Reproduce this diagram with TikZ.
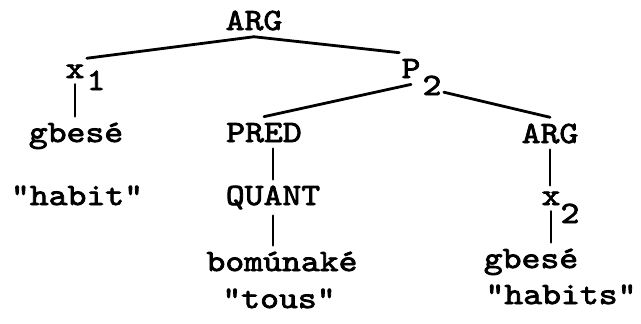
\documentclass[tikz,border=0pt]{standalone}
\usepackage{fontspec}
\newfontfamily\twfont{lmmono10-regular.otf}[FakeStretch=1.16,FakeBold=2.5]

\begin{document}
\begin{tikzpicture}
[x=0.5pt,y=-0.5pt,
  nodedecorate/.style={anchor=base,inner xsep=1pt,inner ysep=3pt,%
    font=\twfont\fontsize{15.5pt}{18pt}\selectfont},%
  linedecorate/.style={-,line width=1.4pt,line cap=round}]
\useasboundingbox (0,0) rectangle (641,323);
%% nodes or vertices
\foreach \nodename/\x/\y/\nodetext in {argtop/254/30/ARG, xone/75/78/x,
  xonesub/96/90/1, gbeseone/76/142/gbesé, habitone/77/205/"habit",
  ptwo/411/78/P, ptwosub/432/95/2, pred/264/142/PRED, argtwo/550/143/ARG,
  quant/273/205/QUANT, bomunake/282/271/bomúnaké, tous/279/308/"tous",
  xtwo/551/205/x, xtwosub/570/223/2, gbesetwo/531/268/gbesé,
  habitstwo/561/304/"habits"} {
  \node (\nodename) at (\x,\y) [nodedecorate] {\nodetext};
}
%% edges or lines
\path
\foreach \startnode/\endnode in {argtop.south/xone.north east,
  argtop.south/ptwo.north west, ptwo.south/pred.north,
  ptwosub.330/argtwo.north}
{
  (\startnode) edge[linedecorate] (\endnode)
};
\path
\foreach \startnode/\endnode in {xone.south/gbeseone.north,
  quant.north/pred.south, quant.south/bomunake.north,
  argtwo.south/xtwo.north, xtwo.south/gbesetwo.north}
{
  (\startnode) edge[linedecorate] (\startnode |- \endnode)
};
\end{tikzpicture}
\end{document}
